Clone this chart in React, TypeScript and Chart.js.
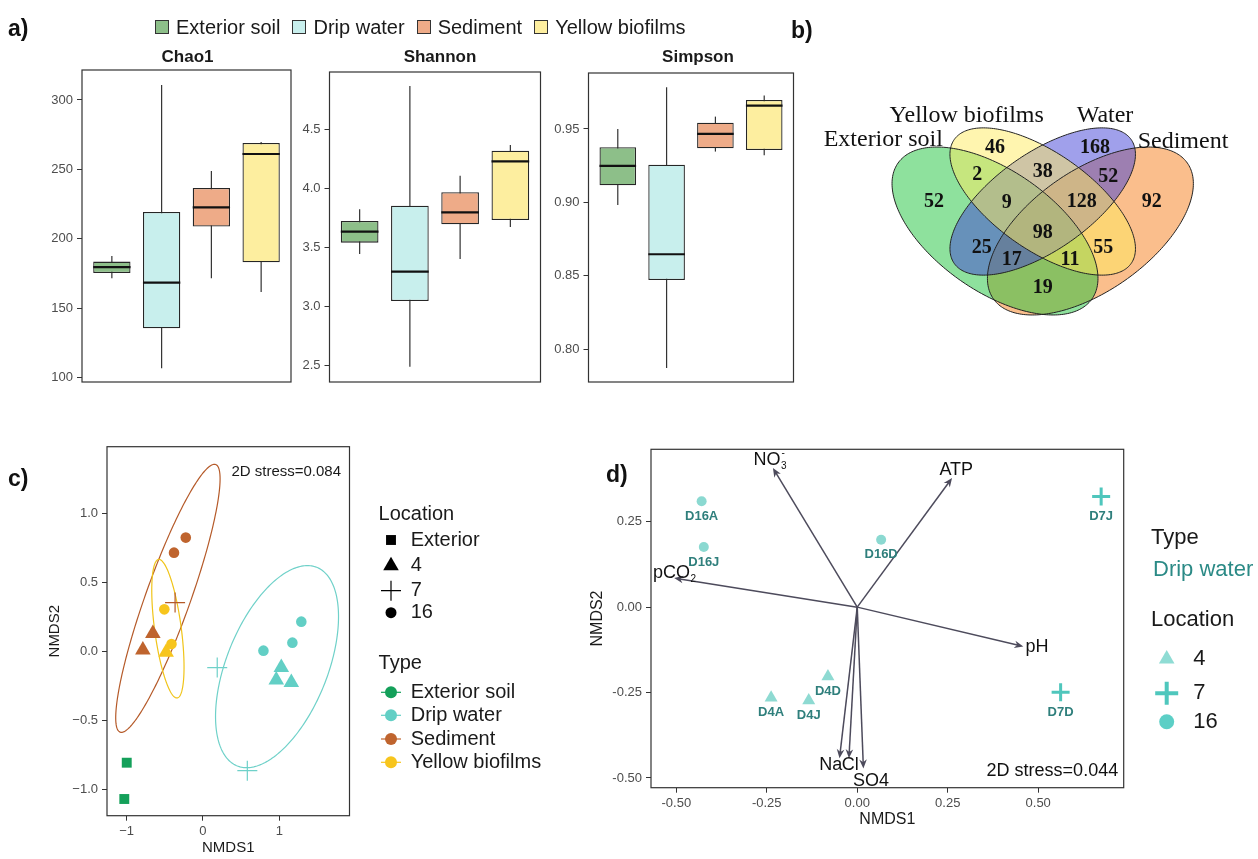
import React, { useEffect, useRef } from "react";
import { Chart, registerables } from "chart.js";

Chart.register(...registerables);

const PAGE_W = 1258;
const PAGE_H = 859;
const SANS = '"Liberation Sans", Arial, Helvetica, sans-serif';
const SERIF = '"Liberation Serif", "Times New Roman", serif';
const INK = "#1a1a1a";
const TICK_INK = "#4d4d4d";
const FRAME = "#333333";

// ---------------- a) alpha diversity boxplots ----------------
const GROUPS = ["Exterior soil", "Drip water", "Sediment", "Yellow biofilms"];
const GROUP_FILL = ["#8dbf89", "#c8efed", "#eeab88", "#fdee9f"];

const CHAO1_MIN = [171.6, 106.8, 171.6, 161.8];
const CHAO1_Q1 = [175.4, 135.6, 208.8, 183.1];
const CHAO1_MED = [179.7, 168.5, 222.7, 261.1];
const CHAO1_Q3 = [183.6, 219.3, 236.6, 269.0];
const CHAO1_MAX = [187.7, 310.8, 248.9, 269.8];
const CHAO1_TICKS = [100, 150, 200, 250, 300];
const CHAO1_TICK_LABELS = ["100", "150", "200", "250", "300"];

const SHANNON_MIN = [3.445, 2.492, 3.403, 3.673];
const SHANNON_Q1 = [3.541, 3.047, 3.696, 3.733];
const SHANNON_MED = [3.634, 3.296, 3.798, 4.229];
const SHANNON_Q3 = [3.724, 3.854, 3.967, 4.319];
const SHANNON_MAX = [3.823, 4.867, 4.108, 4.367];
const SHANNON_TICKS = [2.5, 3.0, 3.5, 4.0, 4.5];
const SHANNON_TICK_LABELS = ["2.5", "3.0", "3.5", "4.0", "4.5"];

const SIMPSON_MIN = [0.8983, 0.7873, 0.9346, 0.9321];
const SIMPSON_Q1 = [0.9116, 0.8472, 0.9368, 0.9357];
const SIMPSON_MED = [0.9248, 0.8647, 0.9466, 0.9659];
const SIMPSON_Q3 = [0.9375, 0.9257, 0.9543, 0.9697];
const SIMPSON_MAX = [0.95, 0.9784, 0.9584, 0.9727];
const SIMPSON_TICKS = [0.8, 0.85, 0.9, 0.95];
const SIMPSON_TICK_LABELS = ["0.80", "0.85", "0.90", "0.95"];

// ---------------- b) Venn diagram ----------------
const VENN_SETS = ["Exterior soil", "Yellow biofilms", "Water", "Sediment"];
const VENN_CX = [125, 172.7, 172.7, 220.4];
const VENN_CY = [99, 128.5, 128.5, 99];
const VENN_A = [118.4, 108, 108, 118.4];
const VENN_B = [60.3, 48.6, 48.6, 60.3];
const VENN_ANGLE = [-35, -35, 35, 35];
const VENN_FILL = ["rgba(30,195,60,0.5)", "rgba(255,235,95,0.5)", "rgba(65,65,215,0.5)", "rgba(245,125,25,0.5)"];
const VENN_DRAW_ORDER = [3, 0, 2, 1];
const VENN_NAME_X = [13.3, 96.7, 235, 313];
const VENN_NAME_Y = [190, 214.3, 214.3, 188.3];
const VENN_COUNTS = [52, 46, 168, 92, 2, 38, 52, 9, 128, 98, 25, 55, 17, 11, 19];
const VENN_COUNT_X = [64, 125, 225, 281.7, 107.3, 172.7, 238.3, 136.7, 211.7, 172.7, 111.7, 233.3, 141.7, 200, 172.7];
const VENN_COUNT_Y = [128.3, 181.7, 181.7, 127.7, 155, 157.7, 153.3, 126.7, 127.7, 97.3, 81.7, 81.7, 70, 70, 41.7];

// ---------------- c) NMDS all samples ----------------
const C_TYPES = ["Exterior soil", "Drip water", "Sediment", "Yellow biofilms"];
const C_TYPE_COLOR = ["#14a05a", "#62cfc5", "#bf642e", "#f7c51d"];
const C_LOCATIONS = ["Exterior", "4", "7", "16"];
const C_SAMPLE_TYPE = [0, 0, 1, 1, 1, 1, 1, 1, 1, 1, 2, 2, 2, 2, 2, 3, 3, 3];
const C_SAMPLE_LOC = [0, 0, 3, 3, 3, 1, 1, 1, 2, 2, 3, 3, 1, 1, 2, 3, 3, 1];
const C_NMDS1 = [-0.998, -1.03, 0.792, 1.171, 1.288, 1.026, 0.96, 1.157, 0.187, 0.581, -0.225, -0.379, -0.656, -0.787, -0.365, -0.506, -0.412, -0.482];
const C_NMDS2 = [-0.807, -1.07, 0.005, 0.063, 0.215, -0.118, -0.208, -0.225, -0.118, -0.865, 0.824, 0.715, 0.13, 0.01, 0.353, 0.304, 0.053, -0.007];
const C_ELLIPSE_TYPE = [2, 3, 1];
const C_ELLIPSE_CX = [-0.459, -0.459, 0.97];
const C_ELLIPSE_CY = [0.384, 0.164, -0.111];
const C_ELLIPSE_UX = [0.609, -0.117, 0.398];
const C_ELLIPSE_UY = [0.971, 0.502, 0.732];
const C_ELLIPSE_H = [0.31, 0.176, 0.7];
const C_X_TICKS = [-1, 0, 1];
const C_X_TICK_LABELS = ["\u22121", "0", "1"];
const C_Y_TICKS = [-1, -0.5, 0, 0.5, 1];
const C_Y_TICK_LABELS = ["\u22121.0", "\u22120.5", "0.0", "0.5", "1.0"];

// ---------------- d) NMDS drip water with vectors ----------------
const D_SAMPLES = ["D16A", "D16J", "D16D", "D7J", "D7D", "D4D", "D4A", "D4J"];
const D_LOCATIONS = ["4", "7", "16"];
const D_SAMPLE_LOC = [2, 2, 2, 1, 1, 0, 0, 0];
const D_NMDS1 = [-0.43, -0.424, 0.066, 0.674, 0.562, -0.081, -0.238, -0.134];
const D_NMDS2 = [0.31, 0.176, 0.197, 0.324, -0.249, -0.203, -0.265, -0.273];
const D_VEC_BASE = ["NO", "ATP", "pCO", "pH", "Na", "Cl", "SO4"];
const D_VEC_SUB = ["3", "", "2", "", "", "", ""];
const D_VEC_SUP = ["-", "", "", "", "", "", ""];
const D_VEC_X = [-0.233, 0.262, -0.506, 0.459, -0.049, -0.023, 0.017];
const D_VEC_Y = [0.407, 0.378, 0.085, -0.115, -0.442, -0.442, -0.472];
const D_VEC_LABEL_X = [-0.287, 0.227, -0.5645, 0.465, -0.105, -0.043, -0.012];
const D_VEC_LABEL_Y = [0.43, 0.401, 0.099, -0.118, -0.462, -0.462, -0.508];
const D_X_TICKS = [-0.5, -0.25, 0, 0.25, 0.5];
const D_X_TICK_LABELS = ["-0.50", "-0.25", "0.00", "0.25", "0.50"];
const D_Y_TICKS = [-0.5, -0.25, 0, 0.25];
const D_Y_TICK_LABELS = ["-0.50", "-0.25", "0.00", "0.25"];

// ---------------- layout helpers ----------------
type Rect = { l: number; t: number; r: number; b: number };
function padFor(rect: Rect, yAxisW: number, xAxisH: number) {
  return { left: rect.l - yAxisW, top: rect.t, right: PAGE_W - rect.r, bottom: PAGE_H - rect.b - xAxisH };
}

function drawMarker(ctx: CanvasRenderingContext2D, style: string, x: number, y: number, r: number, color: string, lw = 1) {
  ctx.save();
  ctx.fillStyle = color;
  ctx.strokeStyle = color;
  ctx.lineWidth = lw;
  ctx.beginPath();
  if (style === "rect") {
    const s = r * Math.SQRT1_2;
    ctx.rect(x - s, y - s, 2 * s, 2 * s);
    ctx.fill();
  } else if (style === "triangle") {
    for (let k = 0; k < 3; k++) {
      const a = (k * 2 * Math.PI) / 3;
      const px = x + Math.sin(a) * r;
      const py = y - Math.cos(a) * r;
      if (k === 0) ctx.moveTo(px, py);
      else ctx.lineTo(px, py);
    }
    ctx.closePath();
    ctx.fill();
  } else if (style === "cross") {
    ctx.moveTo(x - r, y);
    ctx.lineTo(x + r, y);
    ctx.moveTo(x, y - r);
    ctx.lineTo(x, y + r);
    ctx.stroke();
  } else {
    ctx.arc(x, y, r, 0, Math.PI * 2);
    ctx.fill();
  }
  ctx.restore();
}

function frame(chart: any) {
  const { ctx, chartArea: a } = chart;
  ctx.save();
  ctx.strokeStyle = FRAME;
  ctx.lineWidth = 1.2;
  ctx.strokeRect(a.left, a.top, a.right - a.left, a.bottom - a.top);
  ctx.restore();
}

function yAxis(min: number, max: number, ticks: number[], labels: string[], width: number, extra: any = {}) {
  return {
    min,
    max,
    bounds: "data",
    afterFit: (s: any) => {
      s.width = width;
    },
    afterBuildTicks: (s: any) => {
      s.ticks = ticks.map((v) => ({ value: v }));
    },
    ticks: {
      callback: (_v: any, i: number) => labels[i],
      font: { family: SANS, size: 13 },
      color: TICK_INK,
      padding: 4,
      autoSkip: false,
    },
    grid: { drawOnChartArea: false, drawTicks: true, tickLength: 5, tickColor: FRAME, color: FRAME },
    border: { display: false },
    ...extra,
  };
}

function xAxis(min: number, max: number, ticks: number[], labels: string[], height: number, extra: any = {}) {
  return {
    type: "linear",
    min,
    max,
    bounds: "data",
    afterFit: (s: any) => {
      s.height = height;
    },
    afterBuildTicks: (s: any) => {
      s.ticks = ticks.map((v) => ({ value: v }));
    },
    ticks: {
      callback: (_v: any, i: number) => labels[i],
      font: { family: SANS, size: 13 },
      color: TICK_INK,
      padding: 3,
      autoSkip: false,
      maxRotation: 0,
    },
    grid: { drawOnChartArea: false, drawTicks: true, tickLength: 5, tickColor: FRAME, color: FRAME },
    border: { display: false },
    ...extra,
  };
}

const BASE_OPTIONS = {
  animation: false,
  responsive: false,
  maintainAspectRatio: false,
  events: [],
  devicePixelRatio: 1,
};

// ---------------- a) configs ----------------
function makeBoxConfig(spec: any) {
  const { title, titleX, rect, min, q1, med, q3, max, yMin, yMax, ticks, tickLabels } = spec;
  const extras = {
    id: "boxExtras",
    beforeDatasetsDraw(chart: any) {
      const { ctx, scales } = chart;
      ctx.save();
      ctx.strokeStyle = FRAME;
      ctx.lineWidth = 1.2;
      min.forEach((v: number, i: number) => {
        const px = scales.x.getPixelForValue(i + 1);
        ctx.beginPath();
        ctx.moveTo(px, scales.y.getPixelForValue(v));
        ctx.lineTo(px, scales.y.getPixelForValue(max[i]));
        ctx.stroke();
      });
      ctx.restore();
    },
    afterDatasetsDraw(chart: any) {
      const { ctx, scales } = chart;
      const meta = chart.getDatasetMeta(0);
      ctx.save();
      ctx.strokeStyle = "#111";
      ctx.lineWidth = 2.2;
      med.forEach((v: number, i: number) => {
        const el: any = meta.data[i];
        const py = scales.y.getPixelForValue(v);
        ctx.beginPath();
        ctx.moveTo(el.x - el.width / 2, py);
        ctx.lineTo(el.x + el.width / 2, py);
        ctx.stroke();
      });
      ctx.restore();
    },
    afterDraw(chart: any) {
      frame(chart);
      const { ctx } = chart;
      ctx.save();
      ctx.fillStyle = INK;
      ctx.font = `bold 17px ${SANS}`;
      ctx.textAlign = "center";
      ctx.textBaseline = "middle";
      ctx.fillText(title, titleX, 57);
      ctx.restore();
    },
  };
  return {
    type: "bar",
    data: {
      datasets: [
        {
          data: GROUPS.map((_g, i) => ({ x: i + 1, y: [q1[i], q3[i]] })),
          backgroundColor: GROUP_FILL,
          borderColor: "#262626",
          borderWidth: 1.3,
          borderSkipped: false,
          barPercentage: 0.75,
          categoryPercentage: 1,
        },
      ],
    },
    options: {
      ...BASE_OPTIONS,
      layout: { padding: padFor(rect, 40, 0) },
      plugins: { legend: { display: false }, tooltip: { enabled: false } },
      scales: {
        x: {
          type: "linear",
          min: 0.4,
          max: 4.6,
          offset: false,
          bounds: "data",
          afterFit: (s: any) => {
            s.height = 0;
          },
          afterBuildTicks: (s: any) => {
            s.ticks = GROUPS.map((_g, i) => ({ value: i + 1 }));
          },
          ticks: { display: false },
          grid: { display: false },
          border: { display: false },
        },
        y: yAxis(yMin, yMax, ticks, tickLabels, 40),
      },
    },
    plugins: [extras],
  };
}

const chao1Config = () =>
  makeBoxConfig({
    title: "Chao1",
    titleX: 187.5,
    rect: { l: 82, t: 70, r: 291, b: 382 },
    min: CHAO1_MIN, q1: CHAO1_Q1, med: CHAO1_MED, q3: CHAO1_Q3, max: CHAO1_MAX,
    yMin: 96.9, yMax: 321.6, ticks: CHAO1_TICKS, tickLabels: CHAO1_TICK_LABELS,
  });
const shannonConfig = () =>
  makeBoxConfig({
    title: "Shannon",
    titleX: 440,
    rect: { l: 329.5, t: 72, r: 540.5, b: 382 },
    min: SHANNON_MIN, q1: SHANNON_Q1, med: SHANNON_MED, q3: SHANNON_Q3, max: SHANNON_MAX,
    yMin: 2.362, yMax: 4.985, ticks: SHANNON_TICKS, tickLabels: SHANNON_TICK_LABELS,
  });
const simpsonConfig = () =>
  makeBoxConfig({
    title: "Simpson",
    titleX: 698,
    rect: { l: 588.5, t: 73, r: 793.5, b: 382 },
    min: SIMPSON_MIN, q1: SIMPSON_Q1, med: SIMPSON_MED, q3: SIMPSON_Q3, max: SIMPSON_MAX,
    yMin: 0.7777, yMax: 0.9881, ticks: SIMPSON_TICKS, tickLabels: SIMPSON_TICK_LABELS,
  });

// ---------------- b) config ----------------
function vennConfig() {
  const rect = { l: 800, t: 90, r: 1258, b: 330 };
  const extras = {
    id: "vennExtras",
    beforeDatasetsDraw(chart: any) {
      const { ctx, scales } = chart;
      const path = (k: number) => {
        const ang = (VENN_ANGLE[k] * Math.PI) / 180;
        const ca = Math.cos(ang);
        const sa = Math.sin(ang);
        ctx.beginPath();
        for (let s = 0; s <= 240; s++) {
          const t = (s / 240) * Math.PI * 2;
          const ex = VENN_A[k] * Math.cos(t);
          const ey = VENN_B[k] * Math.sin(t);
          const px = scales.x.getPixelForValue(VENN_CX[k] + ex * ca - ey * sa);
          const py = scales.y.getPixelForValue(VENN_CY[k] + ex * sa + ey * ca);
          if (s === 0) ctx.moveTo(px, py);
          else ctx.lineTo(px, py);
        }
        ctx.closePath();
      };
      ctx.save();
      VENN_DRAW_ORDER.forEach((k) => {
        path(k);
        ctx.fillStyle = VENN_FILL[k];
        ctx.fill();
      });
      ctx.strokeStyle = "#222";
      ctx.lineWidth = 1;
      VENN_DRAW_ORDER.forEach((k) => {
        path(k);
        ctx.stroke();
      });
      ctx.restore();
    },
    afterDatasetsDraw(chart: any) {
      const { ctx, scales } = chart;
      const meta = chart.getDatasetMeta(0);
      ctx.save();
      ctx.fillStyle = "#111";
      ctx.textAlign = "center";
      ctx.textBaseline = "middle";
      ctx.font = `bold 20px ${SERIF}`;
      VENN_COUNTS.forEach((c, i) => {
        const el: any = meta.data[i];
        ctx.fillText(String(c), el.x, el.y);
      });
      ctx.font = `24px ${SERIF}`;
      VENN_SETS.forEach((name, i) => {
        ctx.fillText(name, scales.x.getPixelForValue(VENN_NAME_X[i]), scales.y.getPixelForValue(VENN_NAME_Y[i]));
      });
      ctx.restore();
    },
  };
  return {
    type: "scatter",
    data: {
      datasets: [
        {
          data: VENN_COUNTS.map((_c, i) => ({ x: VENN_COUNT_X[i], y: VENN_COUNT_Y[i] })),
          pointRadius: 0,
        },
      ],
    },
    options: {
      ...BASE_OPTIONS,
      layout: { padding: padFor(rect, 0, 0) },
      plugins: { legend: { display: false }, tooltip: { enabled: false } },
      scales: {
        x: { type: "linear", min: -70, max: 388, display: false },
        y: { type: "linear", min: 0, max: 240, display: false },
      },
    },
    plugins: [extras],
  };
}

// ---------------- c) config ----------------
const C_LOC_STYLE = ["rect", "triangle", "cross", "circle"];
const C_LOC_RADIUS = [7, 9, 10, 5.3];
const C_ELLIPSE_COLOR = ["#14a05a", "#6fd1c9", "#b55a29", "#f0c419"];

function nmdsAllConfig() {
  const rect = { l: 107, t: 446.7, r: 349.5, b: 815.7 };
  const datasets: any[] = [];
  C_TYPES.forEach((tname, ti) => {
    C_LOC_STYLE.forEach((style, li) => {
      const pts: any[] = [];
      C_NMDS1.forEach((vx, k) => {
        if (C_SAMPLE_TYPE[k] === ti && C_SAMPLE_LOC[k] === li) pts.push({ x: vx, y: C_NMDS2[k] });
      });
      if (!pts.length) return;
      const isCross = style === "cross";
      datasets.push({
        label: `${tname} ${C_LOCATIONS[li]}`,
        data: pts,
        pointStyle: style,
        pointRadius: C_LOC_RADIUS[li],
        pointBackgroundColor: C_TYPE_COLOR[ti],
        pointBorderColor: isCross ? C_ELLIPSE_COLOR[ti] : C_TYPE_COLOR[ti],
        pointBorderWidth: isCross ? 1.2 : 0,
        showLine: false,
        clip: false,
      });
    });
  });
  const extras = {
    id: "nmdsAllExtras",
    beforeDatasetsDraw(chart: any) {
      const { ctx, scales } = chart;
      ctx.save();
      ctx.lineWidth = 1.2;
      C_ELLIPSE_TYPE.forEach((ti, e) => {
        ctx.strokeStyle = C_ELLIPSE_COLOR[ti];
        ctx.beginPath();
        for (let s = 0; s <= 240; s++) {
          const t = (s / 240) * Math.PI * 2;
          const dx = C_ELLIPSE_CX[e] + C_ELLIPSE_UX[e] * Math.cos(t) + C_ELLIPSE_H[e] * Math.sin(t);
          const dy = C_ELLIPSE_CY[e] + C_ELLIPSE_UY[e] * Math.cos(t);
          const px = scales.x.getPixelForValue(dx);
          const py = scales.y.getPixelForValue(dy);
          if (s === 0) ctx.moveTo(px, py);
          else ctx.lineTo(px, py);
        }
        ctx.closePath();
        ctx.stroke();
      });
      ctx.restore();
    },
    afterDraw(chart: any) {
      const { ctx, scales } = chart;
      frame(chart);
      ctx.save();
      ctx.fillStyle = INK;
      ctx.font = `15px ${SANS}`;
      ctx.textAlign = "right";
      ctx.textBaseline = "middle";
      ctx.fillText("2D stress=0.084", scales.x.getPixelForValue(1.808), scales.y.getPixelForValue(1.301));
      // legend
      const titleX = 378.6;
      const symX = 391;
      const textX = 410.7;
      ctx.textAlign = "left";
      ctx.font = `20px ${SANS}`;
      ctx.fillText("Location", titleX, 514);
      const locY = [540, 565.7, 590.7, 612.7];
      C_LOCATIONS.forEach((loc, i) => {
        drawMarker(ctx, C_LOC_STYLE[i], symX, locY[i], [7, 9, 10, 5.5][i], "#000", 1.2);
        ctx.fillStyle = INK;
        ctx.fillText(loc, textX, locY[i]);
      });
      ctx.fillText("Type", titleX, 663);
      const typeY = [692.3, 715.3, 739, 762.3];
      C_TYPES.forEach((t, i) => {
        ctx.save();
        ctx.strokeStyle = C_TYPE_COLOR[i];
        ctx.lineWidth = 1.2;
        ctx.beginPath();
        ctx.moveTo(symX - 10, typeY[i]);
        ctx.lineTo(symX + 10, typeY[i]);
        ctx.stroke();
        ctx.restore();
        drawMarker(ctx, "circle", symX, typeY[i], 6, C_TYPE_COLOR[i]);
        ctx.fillStyle = INK;
        ctx.fillText(t, textX, typeY[i]);
      });
      ctx.restore();
    },
  };
  return {
    type: "scatter",
    data: { datasets },
    options: {
      ...BASE_OPTIONS,
      layout: { padding: padFor(rect, 107, 43.3) },
      plugins: { legend: { display: false }, tooltip: { enabled: false } },
      scales: {
        x: xAxis(-1.2565, 1.919, C_X_TICKS, C_X_TICK_LABELS, 43.3, {
          title: { display: true, text: "NMDS1", font: { family: SANS, size: 15 }, color: INK, padding: { top: 0, bottom: 2 } },
        }),
        y: yAxis(-1.191, 1.4826, C_Y_TICKS, C_Y_TICK_LABELS, 107, {
          title: { display: true, text: "NMDS2", font: { family: SANS, size: 15 }, color: INK, padding: { top: 46, bottom: 0 } },
        }),
      },
    },
    plugins: [extras],
  };
}

// ---------------- d) config ----------------
const D_LOC_STYLE = ["triangle", "cross", "circle"];
const D_LOC_RADIUS = [7.5, 9, 5];
const D_LOC_COLOR = ["#8edad2", "#4fc6bc", "#8bd9d1"];
const D_LABEL_INK = "#2f7f7c";
const ARROW_INK = "#4d4b5c";

function drawChem(ctx: CanvasRenderingContext2D, base: string, sub: string, sup: string, x: number, y: number, size: number) {
  ctx.font = `${size}px ${SANS}`;
  ctx.textAlign = "left";
  ctx.textBaseline = "middle";
  ctx.fillText(base, x, y);
  const w = ctx.measureText(base).width;
  const small = Math.round(size * 0.55);
  ctx.font = `${small}px ${SANS}`;
  if (sub) ctx.fillText(sub, x + w + 0.5, y + size * 0.35);
  if (sup) ctx.fillText(sup, x + w + 1, y - size * 0.38);
}

function nmdsDripConfig() {
  const rect = { l: 651, t: 449.3, r: 1123.7, b: 787.7 };
  const datasets = D_LOCATIONS.map((loc, li) => {
    const idx = D_SAMPLES.map((_s, k) => k).filter((k) => D_SAMPLE_LOC[k] === li);
    const isCross = D_LOC_STYLE[li] === "cross";
    return {
      label: loc,
      data: idx.map((k) => ({ x: D_NMDS1[k], y: D_NMDS2[k], name: D_SAMPLES[k] })),
      pointStyle: D_LOC_STYLE[li],
      pointRadius: D_LOC_RADIUS[li],
      pointBackgroundColor: D_LOC_COLOR[li],
      pointBorderColor: D_LOC_COLOR[li],
      pointBorderWidth: isCross ? 3 : 0,
      showLine: false,
      clip: false,
    };
  });
  const extras = {
    id: "nmdsDripExtras",
    beforeDatasetsDraw(chart: any) {
      const { ctx, scales } = chart;
      const ox = scales.x.getPixelForValue(0);
      const oy = scales.y.getPixelForValue(0);
      ctx.save();
      ctx.strokeStyle = ARROW_INK;
      ctx.fillStyle = ARROW_INK;
      ctx.lineWidth = 1.5;
      D_VEC_X.forEach((vx, i) => {
        const tx = scales.x.getPixelForValue(vx);
        const ty = scales.y.getPixelForValue(D_VEC_Y[i]);
        const ang = Math.atan2(ty - oy, tx - ox);
        const c = Math.cos(ang);
        const s = Math.sin(ang);
        ctx.beginPath();
        ctx.moveTo(ox, oy);
        ctx.lineTo(tx - c * 4, ty - s * 4);
        ctx.stroke();
        const hl = 9;
        const hw = 3.8;
        ctx.beginPath();
        ctx.moveTo(tx, ty);
        ctx.lineTo(tx - hl * c + hw * s, ty - hl * s - hw * c);
        ctx.lineTo(tx - hl * c * 0.7, ty - hl * s * 0.7);
        ctx.lineTo(tx - hl * c - hw * s, ty - hl * s + hw * c);
        ctx.closePath();
        ctx.fill();
      });
      ctx.restore();
    },
    afterDatasetsDraw(chart: any) {
      const { ctx, scales } = chart;
      ctx.save();
      // sample labels
      ctx.fillStyle = D_LABEL_INK;
      ctx.font = `bold 13px ${SANS}`;
      ctx.textAlign = "center";
      ctx.textBaseline = "middle";
      chart.data.datasets.forEach((ds: any, di: number) => {
        const meta = chart.getDatasetMeta(di);
        ds.data.forEach((p: any, j: number) => {
          const el: any = meta.data[j];
          const off = D_LOC_STYLE[di] === "cross" ? 20 : 15;
          ctx.fillText(p.name, el.x, el.y + off);
        });
      });
      // vector labels
      ctx.fillStyle = "#111";
      D_VEC_BASE.forEach((b, i) => {
        drawChem(ctx, b, D_VEC_SUB[i], D_VEC_SUP[i], scales.x.getPixelForValue(D_VEC_LABEL_X[i]), scales.y.getPixelForValue(D_VEC_LABEL_Y[i]), 18);
      });
      ctx.font = `18px ${SANS}`;
      ctx.textAlign = "right";
      ctx.textBaseline = "middle";
      ctx.fillText("2D stress=0.044", scales.x.getPixelForValue(0.721), scales.y.getPixelForValue(-0.48));
      ctx.restore();
    },
    afterDraw(chart: any) {
      const { ctx } = chart;
      frame(chart);
      ctx.save();
      ctx.textAlign = "left";
      ctx.textBaseline = "middle";
      ctx.font = `22px ${SANS}`;
      ctx.fillStyle = INK;
      ctx.fillText("Type", 1151, 538.3);
      ctx.fillStyle = "#2b8a86";
      ctx.fillText("Drip water", 1153, 570);
      ctx.fillStyle = INK;
      ctx.fillText("Location", 1151, 620);
      const locY = [659, 693.3, 721.7];
      const legR = [9, 11.5, 7.5];
      const legCol = ["#8fdcd4", "#4fc7bd", "#5ccfc6"];
      D_LOCATIONS.forEach((loc, i) => {
        drawMarker(ctx, D_LOC_STYLE[i], 1166.7, locY[i], legR[i], legCol[i], 4);
        ctx.fillStyle = INK;
        ctx.fillText(loc, 1193.3, locY[i]);
      });
      ctx.restore();
    },
  };
  return {
    type: "scatter",
    data: { datasets },
    options: {
      ...BASE_OPTIONS,
      layout: { padding: padFor(rect, 71, 52.3) },
      plugins: { legend: { display: false }, tooltip: { enabled: false } },
      scales: {
        x: xAxis(-0.5699, 0.7363, D_X_TICKS, D_X_TICK_LABELS, 52.3, {
          title: { display: true, text: "NMDS1", font: { family: SANS, size: 16 }, color: INK, padding: { top: 0, bottom: 10.4 } },
        }),
        y: yAxis(-0.5284, 0.4619, D_Y_TICKS, D_Y_TICK_LABELS, 71, {
          title: { display: true, text: "NMDS2", font: { family: SANS, size: 16 }, color: INK, padding: { top: 8.4, bottom: 0 } },
        }),
      },
    },
    plugins: [extras],
  };
}

// ---------------- React ----------------
function ChartLayer({ make }: { make: () => any }) {
  const ref = useRef<HTMLCanvasElement | null>(null);
  useEffect(() => {
    if (!ref.current) return;
    const chart = new Chart(ref.current, make());
    return () => chart.destroy();
  }, []);
  return (
    <canvas
      ref={ref}
      width={PAGE_W}
      height={PAGE_H}
      style={{ position: "absolute", left: 0, top: 0, width: PAGE_W, height: PAGE_H, pointerEvents: "none" }}
    />
  );
}

function PanelLabel({ text, x, y }: { text: string; x: number; y: number }) {
  return (
    <div
      style={{
        position: "absolute",
        left: x,
        top: y,
        transform: "translateY(-50%)",
        font: `bold 23px ${SANS}`,
        color: "#111",
        lineHeight: 1,
        whiteSpace: "nowrap",
      }}
    >
      {text}
    </div>
  );
}

export default function App() {
  return (
    <div style={{ position: "absolute", left: 0, top: 0, width: PAGE_W, height: PAGE_H, background: "#fff", overflow: "hidden" }}>
      <ChartLayer make={chao1Config} />
      <ChartLayer make={shannonConfig} />
      <ChartLayer make={simpsonConfig} />
      <ChartLayer make={vennConfig} />
      <ChartLayer make={nmdsAllConfig} />
      <ChartLayer make={nmdsDripConfig} />
      <PanelLabel text="a)" x={8} y={28} />
      <PanelLabel text="b)" x={791} y={30} />
      <PanelLabel text="c)" x={8} y={478} />
      <PanelLabel text="d)" x={606} y={474} />
      <div
        style={{
          position: "absolute",
          left: 155,
          top: 27,
          transform: "translateY(-50%)",
          display: "flex",
          alignItems: "center",
          font: `20px ${SANS}`,
          color: INK,
          whiteSpace: "nowrap",
          lineHeight: 1,
        }}
      >
        {GROUPS.map((g, i) => (
          <span key={g} style={{ display: "flex", alignItems: "center", marginRight: 12 }}>
            <span
              style={{
                display: "inline-block",
                width: 14,
                height: 14,
                boxSizing: "border-box",
                background: GROUP_FILL[i],
                border: "1px solid #333",
                marginRight: 7,
              }}
            />
            {g}
          </span>
        ))}
      </div>
    </div>
  );
}
